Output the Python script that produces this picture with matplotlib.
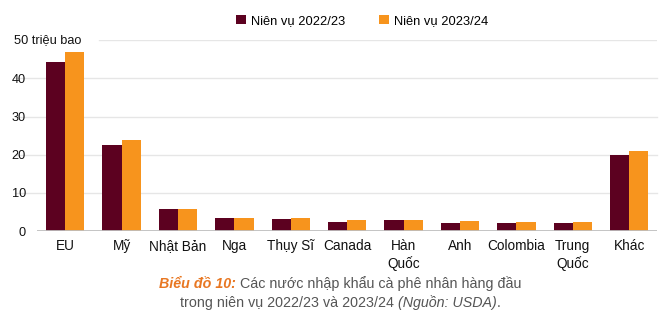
import matplotlib
matplotlib.use("Agg")
import matplotlib.pyplot as plt
import numpy as np

plt.rcParams['font.family'] = ['Liberation Sans', 'DejaVu Sans']

countries = ['EU', 'Mỹ', 'Nhật Bản', 'Nga', 'Thụy Sĩ', 'Canada', 'Hàn\nQuốc',
             'Anh', 'Colombia', 'Trung\nQuốc', 'Khác']
vu_2223 = [44.3, 22.5, 5.9, 3.4, 3.2, 2.4, 2.8, 2.0, 2.0, 2.0, 19.9]
vu_2324 = [46.9, 23.8, 5.9, 3.4, 3.4, 2.9, 2.8, 2.6, 2.3, 2.3, 21.0]
series_names = ['Niên vụ 2022/23', 'Niên vụ 2023/24']
yticks = [0, 10, 20, 30, 40, 50]

dark = '#5c0120'
orange = '#f7941d'
txt = '#111111'

fig = plt.figure(figsize=(6.67, 3.21), dpi=100)
ax = fig.add_axes([0.0555, 0.28, 0.93, 0.595])

x = np.arange(len(countries))
w = 0.34
ax.bar(x - w / 2, vu_2223, w, color=dark, label=series_names[0], zorder=3)
ax.bar(x + w / 2, vu_2324, w, color=orange, label=series_names[1], zorder=3)

ax.set_xlim(-0.5, len(countries) - 0.5)
ax.set_ylim(0, 50)
ax.set_yticks(yticks)
ax.set_yticklabels([str(t) for t in yticks[:-1]] + [''])
for t in yticks[1:-1]:
    ax.axhline(t, color='#e6e6e6', lw=1, zorder=1, xmin=-0.035, clip_on=False)
ax.axhline(50, color='#e6e6e6', lw=1, zorder=1, xmin=0.1)
ax.axhline(0, color='#bfbfbf', lw=2, zorder=4)
ax.text(-0.037, 50, '50 triệu bao', transform=ax.get_yaxis_transform(),
        ha='left', va='center', fontsize=9.2, color=txt)
for s in ax.spines.values():
    s.set_visible(False)
ax.tick_params(length=0, labelcolor=txt)
ax.tick_params(axis='y', pad=8, labelsize=9.2)
ax.tick_params(axis='x', pad=6, labelsize=9.8)
ax.set_xticks(x)
ax.set_xticklabels(countries, linespacing=1.2)

fig.legend(loc='upper center', bbox_to_anchor=(0.543, 0.99), ncol=2, frameon=False,
           fontsize=9.3, handlelength=0.75, handleheight=0.75, handletextpad=0.4,
           columnspacing=2.6)

cap_color = '#555555'


def caption_line(parts, y):
    texts = []
    first = fig.text(0.5, y, parts[0][0], color=parts[0][1], fontsize=10.3,
                     fontweight=parts[0][2], fontstyle=parts[0][3], va='baseline')
    texts.append(first)
    prev = first
    for s, c, wgt, sty in parts[1:]:
        t = ax.annotate(s, xy=(1, 0), xycoords=prev, xytext=(0, 0),
                        textcoords='offset points', color=c, fontsize=10.3,
                        fontweight=wgt, fontstyle=sty, va='bottom',
                        annotation_clip=False)
        texts.append(t)
        prev = t
    return texts


line1 = caption_line([('Biểu đồ 10:', '#e87722', 'bold', 'italic'),
                      (' Các nước nhập khẩu cà phê nhân hàng đầu', cap_color, 'normal', 'normal')],
                     0.103)
line2 = caption_line([('trong niên vụ 2022/23 và 2023/24 ', cap_color, 'normal', 'normal'),
                      ('(Nguồn: USDA)', cap_color, 'normal', 'italic'),
                      ('.', cap_color, 'normal', 'normal')],
                     0.045)

fig.canvas.draw()
r = fig.canvas.get_renderer()
W = fig.bbox.width
for line in (line1, line2):
    x0 = line[0].get_window_extent(r).x0
    x1 = line[-1].get_window_extent(r).x1
    width = (x1 - x0) / W
    line[0].set_x(0.51 - width / 2)

fig.savefig('out.png', dpi=100)
